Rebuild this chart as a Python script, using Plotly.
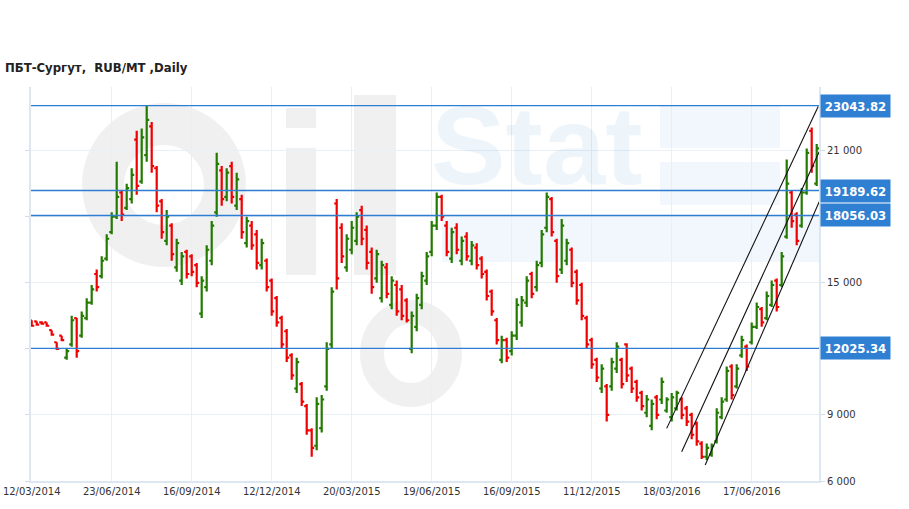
import plotly.graph_objects as go

# daily OHLC of ПБТ-Сургут (grouped)
opens = [13300, 13250, 13200, 13200, 12850, 12300, 12600, 11600, 12200, 13400,
         12600, 13400, 14100, 15400, 15300, 16100, 17300, 18000, 19100, 18400,
         18800, 21500, 19600, 20800, 22100, 20200, 18700, 16900, 17600, 15700,
         15100, 16400, 16200, 15800, 13600, 14800, 16000, 18200, 20100, 18900,
         20300, 18500, 18800, 16800, 17600, 17200, 15800, 16000, 15100, 14300,
         13400, 12800, 11700, 10200, 10400, 9400, 8300, 7600, 8400, 10300,
         12200, 18600, 17500, 15700, 16500, 16900, 18300, 17400, 16400, 15200,
         14300, 15700, 14000, 14900, 14700, 14200, 12000, 13000, 14000, 15100,
         16400, 17600, 18900, 17600, 16100, 17500, 16000, 17100, 16000, 16600,
         16100, 15500, 14600, 13300, 11500, 12400, 11900, 12600, 13200, 14100,
         15400, 14800, 15900, 17500, 18800, 16900, 15600, 16000, 16500, 15500,
         14900, 13400, 12400, 11500, 10200, 10300, 10300, 11100, 11500, 12200,
         11100, 10500, 10000, 9100, 8500, 9800, 9700, 9200, 8900, 9300,
         9700, 9300, 9000, 8600, 7700, 7100, 7200, 7800, 8900, 9700,
         11200, 10300, 11700, 12100, 12300, 13000, 13800, 13400, 14000, 15100,
         14900, 17100, 19100, 18100, 17600, 19100, 21900, 19500]
highs = [13300, 13250, 13250, 13200, 12850, 12300, 12600, 12000, 13500, 13400,
         13700, 14300, 14900, 15600, 16200, 17200, 18200, 20500, 19200, 19500,
         20200, 21900, 22000, 23070, 22300, 20300, 18800, 18300, 17700, 17000,
         16400, 16500, 16300, 15900, 15300, 16700, 17800, 20900, 20300, 20200,
         20500, 20000, 19000, 18000, 17800, 17400, 17000, 16100, 15200, 14400,
         13500, 12900, 11800, 11600, 10500, 9500, 8400, 9800, 9900, 12300,
         14800, 18800, 17700, 17200, 17800, 18200, 18500, 17600, 16600, 16500,
         16000, 15900, 15300, 15100, 14900, 14300, 13700, 14500, 15500, 16400,
         17800, 19100, 19000, 17800, 17500, 17700, 17100, 17300, 16900, 16800,
         16200, 15600, 14700, 13400, 12600, 12500, 12800, 14300, 14400, 15300,
         15500, 16000, 17400, 19100, 18900, 17000, 17900, 17000, 16600, 15600,
         15000, 13500, 12500, 11600, 11300, 10400, 11600, 12300, 11600, 12250,
         11200, 10600, 10100, 9900, 9700, 9900, 10700, 9800, 10000, 10100,
         9800, 9400, 9100, 8700, 7800, 7700, 7700, 9300, 9800, 11200,
         11300, 11300, 12600, 12200, 13200, 14100, 13900, 14600, 15100, 15200,
         16400, 20600, 19200, 18200, 19300, 21100, 22050, 21300]
lows = [13000, 13050, 13100, 13000, 12600, 11950, 12350, 11500, 12100, 11600,
        12500, 13300, 14000, 14600, 15200, 16000, 17200, 17900, 17800, 18300,
        18600, 19000, 19500, 20500, 20000, 18200, 17000, 16700, 16000, 15500,
        14900, 15200, 15300, 14800, 13400, 14600, 15800, 18000, 18500, 18700,
        18600, 18300, 17000, 16600, 16500, 15600, 15600, 14600, 13500, 13000,
        12000, 11400, 10600, 10000, 9400, 8100, 7100, 7400, 8200, 10100,
        12000, 14700, 15900, 15500, 16300, 16700, 16700, 15600, 14500, 15000,
        14100, 14300, 13800, 13500, 13300, 13200, 11800, 12800, 13800, 14900,
        16200, 17400, 17800, 16200, 15900, 16300, 15800, 16000, 15800, 15600,
        15200, 14200, 13500, 12200, 11350, 11400, 11700, 12400, 13000, 13900,
        14300, 14600, 15700, 17300, 17100, 15000, 15400, 15800, 14800, 14000,
        13300, 12000, 11100, 10500, 10000, 8700, 10100, 10900, 10200, 10500,
        10000, 9600, 9200, 8900, 8300, 8800, 9500, 9100, 8700, 9200,
        8800, 8500, 7900, 7600, 7000, 6950, 7100, 7700, 8800, 9600,
        9700, 10200, 11600, 11000, 12200, 12900, 13000, 13300, 13900, 13700,
        14800, 17000, 17500, 16700, 17500, 19000, 20000, 19400]
closes = [13050, 13100, 13150, 13050, 12650, 12000, 12400, 11900, 13300, 11900,
          13500, 14100, 14700, 14800, 16000, 17000, 18000, 18900, 18100, 19300,
          19900, 19400, 21600, 22400, 20300, 18500, 17300, 18000, 16300, 16800,
          16200, 15400, 15500, 15000, 15100, 16500, 17600, 20400, 18800, 20000,
          18900, 19700, 17300, 17800, 16700, 15900, 16800, 14800, 13700, 13200,
          12200, 11600, 10800, 11400, 9600, 8300, 7500, 9500, 9700, 12000,
          14600, 15200, 16200, 17000, 17500, 18000, 17000, 15900, 14800, 16300,
          15800, 14500, 15100, 13700, 13500, 13300, 13500, 14300, 15300, 16200,
          17600, 18900, 18000, 16400, 17300, 16500, 16900, 16200, 16700, 15800,
          15400, 14400, 13700, 12400, 12400, 11600, 12600, 14000, 14200, 15100,
          14500, 15800, 17200, 18900, 17300, 15300, 17600, 16800, 15000, 14200,
          13500, 12200, 11300, 10700, 11100, 9000, 11400, 12100, 10400, 10800,
          10200, 9800, 9400, 9700, 9500, 9000, 10500, 9700, 9800, 10000,
          9000, 8700, 8100, 7800, 7100, 7500, 7600, 9100, 9600, 11000,
          9900, 11100, 12400, 11200, 13000, 13900, 13200, 14400, 14900, 13900,
          16200, 19500, 17800, 16900, 19100, 20900, 20300, 21100]

tick_labels = ['12/03/2014', '23/06/2014', '16/09/2014', '12/12/2014', '20/03/2015',
               '19/06/2015', '16/09/2015', '11/12/2015', '18/03/2016', '17/06/2016']
bars_per_tick = 16

price_ticks = [6000, 9000, 12000, 15000, 18000, 21000]
price_tick_text = ['6 000', '9 000', '', '15 000', '', '21 000']  # 12 000 / 18 000 sit under the level boxes

levels = [23043.82, 19189.62, 18056.03, 12025.34]

# trend channel: (start bar, start price, end bar, end price)
channel = [(127, 8390, 157.3, 23000),
           (130, 7330, 157.5, 20950),
           (134.7, 6730, 157.5, 18680)]

x = list(range(len(opens)))

fig = go.Figure()

# faint watermark word
fig.add_trace(go.Scatter(x=[101], y=[20750], mode='text', text=['<b>Stat</b>'],
                         textfont=dict(family='Liberation Sans', size=112, color='rgba(60,140,210,0.09)'),
                         hoverinfo='skip', showlegend=False))

fig.add_trace(go.Ohlc(x=x, open=opens, high=highs, low=lows, close=closes,
                      increasing_line_color='#237a00', decreasing_line_color='#f00000',
                      line_width=2.2, tickwidth=0.5, showlegend=False))


def px2paper(px, py):
    return (px - 31) / 788, (481 - py) / 394


shapes = []
# watermark "Oil" + drop, drawn under the bars
wm = 'rgba(0,0,0,0.06)'
x0, y0 = px2paper(103, 124); x1, y1 = px2paper(225, 246)
shapes.append(dict(type='circle', xref='paper', yref='paper', x0=x0, y0=y0, x1=x1, y1=y1,
                   line=dict(color=wm, width=42), layer='below'))
for (a, b, c, d) in [(286, 108, 316, 128), (286, 148, 316, 275), (354, 95, 396, 275)]:
    x0, y0 = px2paper(a, b); x1, y1 = px2paper(c, d)
    shapes.append(dict(type='rect', xref='paper', yref='paper', x0=x0, y0=y0, x1=x1, y1=y1,
                       fillcolor=wm, line_width=0, layer='below'))
x0, y0 = px2paper(372, 312); x1, y1 = px2paper(450, 395)
shapes.append(dict(type='circle', xref='paper', yref='paper', x0=x0, y0=y0, x1=x1, y1=y1,
                   line=dict(color=wm, width=24), layer='below'))
wb = 'rgba(60,140,210,0.07)'
for (a, b, c, d) in [(442, 215, 819, 262), (660, 162, 780, 205), (660, 105, 780, 148)]:
    x0, y0 = px2paper(a, b); x1, y1 = px2paper(c, d)
    shapes.append(dict(type='rect', xref='paper', yref='paper', x0=x0, y0=y0, x1=x1, y1=y1,
                       fillcolor=wb, line_width=0, layer='below'))

for lv in levels:
    shapes.append(dict(type='line', xref='paper', x0=0, x1=1, yref='y', y0=lv, y1=lv,
                       line=dict(color='#2f7dd1', width=1.3)))
for (xa, ya, xb, yb) in channel:
    shapes.append(dict(type='line', xref='x', yref='y', x0=xa, y0=ya, x1=xb, y1=yb,
                       line=dict(color='#111111', width=1.1)))

annotations = []
for lv in levels:
    annotations.append(dict(xref='paper', x=1, xanchor='left', xshift=1, yref='y', y=lv,
                            text=f'{lv:.2f}', showarrow=False, width=64, height=17,
                            bgcolor='#2f80d3', borderpad=2.5,
                            font=dict(family='DejaVu Sans Condensed', size=13, color='white', weight='bold')))

annotations.append(dict(xref='paper', x=-28 / 788, xanchor='left', yref='paper', y=(481 - 68) / 394,
                        yanchor='middle', text='ПБТ-Сургут,\u00a0 RUB/MT ,Daily', showarrow=False,
                        font=dict(family='DejaVu Sans Condensed', size=13, color='#222222', weight='bold')))

fig.update_layout(
    width=909, height=509,
    margin=dict(l=31, r=90, t=87, b=28),
    paper_bgcolor='white', plot_bgcolor='white',
    separators='. ',
    shapes=shapes, annotations=annotations,
    showlegend=False,
)
fig.update_xaxes(range=[-0.14, 157.46], rangeslider_visible=False, automargin=False,
                 tickvals=[i * bars_per_tick for i in range(len(tick_labels))], ticktext=tick_labels,
                 showgrid=True, gridcolor='#e8eff7', gridwidth=1,
                 showline=True, linecolor='#dce7f2', linewidth=2,
                 ticks='', tickfont=dict(family='DejaVu Sans', size=10, color='#333333'),
                 zeroline=False)
fig.update_yaxes(range=[6000, 23890], side='right', automargin=False,
                 tickvals=price_ticks, ticktext=price_tick_text,
                 showgrid=True, gridcolor='#e8eff7', gridwidth=1,
                 showline=True, linecolor='#dce7f2', linewidth=2, mirror='ticks',
                 ticks='outside', ticklen=4, tickcolor='#d0dcea',
                 tickfont=dict(family='DejaVu Sans', size=10, color='#333333'),
                 zeroline=False)

# drop the page's default body margin so the figure sits at the window corner
fig.write_html("out.html", config={'displayModeBar': False},
               post_script="document.body.style.margin='0';")
